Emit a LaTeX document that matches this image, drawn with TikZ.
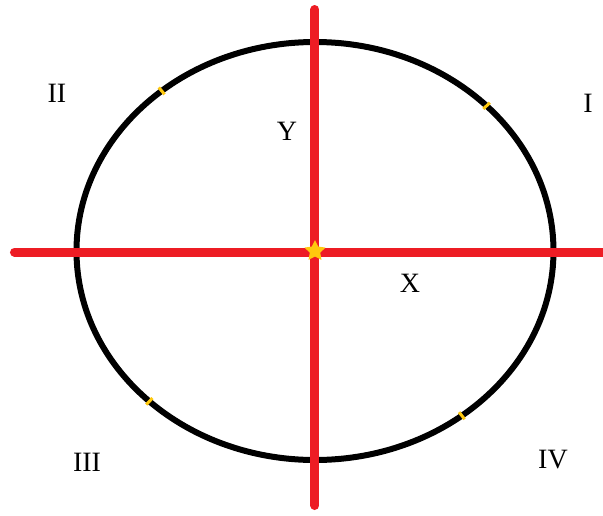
\documentclass[tikz,border=0pt]{standalone}
\usepackage{fontspec}
\setmainfont{Liberation Serif}
\usetikzlibrary{calc,shapes.geometric}
\definecolor{AxisRed}{RGB}{237,28,36}
\definecolor{MarkGold}{RGB}{255,201,14}

\begin{document}
\begin{tikzpicture}[x=1pt,y=1pt,
  quad/.style={font=\fontsize{28}{32}\selectfont,inner sep=0pt},
  axis/.style={AxisRed,line width=9pt,line cap=round}]
\useasboundingbox (-315,-264) rectangle (288,251);
\coordinate (O) at (0,0);
% orbit
\draw[line width=6pt] (O) ellipse [x radius=238.5pt,y radius=209pt];
\foreach \t in {44,130,226,308}
  \draw[MarkGold,line width=3pt] ($(O)+(\t:234pt and 204.5pt)$)--($(O)+(\t:243pt and 213.5pt)$);
% axes
\coordinate (xl) at (-300.5,-1);
\coordinate (xr) at (300,-1);
\coordinate (yt) at (0,241.5);
\coordinate (yb) at (0,-254.5);
\draw[axis] (xl)--(xr);
\draw[axis] (yt)--(yb);
\node[star,star points=5,star point ratio=2,fill=MarkGold,minimum size=22pt,inner sep=0pt] (c) at (O) {};
% labels
\node[quad] (q1) at (273,148) {I};
\node[quad] (q2) at (-258,158) {II};
\node[quad] (q3) at (-228,-211) {III};
\node[quad] (q4) at (238,-209) {IV};
\node[quad] (ly) at (-28,120) {Y};
\node[quad] (lx) at (95,-32) {X};
\end{tikzpicture}
\end{document}
